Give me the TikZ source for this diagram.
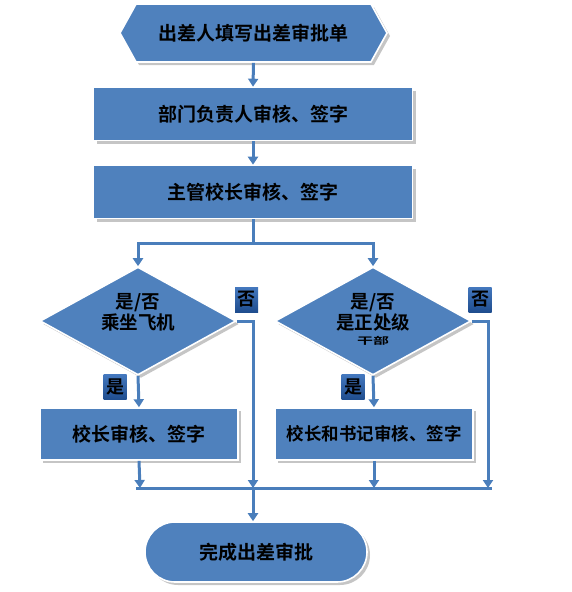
\documentclass[tikz,border=0pt]{standalone}
\usepackage{fontspec}
\setmainfont{Noto Sans CJK SC}[BoldFont={Noto Sans CJK SC Bold}]
\usetikzlibrary{shapes.geometric,shapes.misc,shapes.symbols,arrows.meta,shadows}
\definecolor{boxblue}{HTML}{4F81BD}
\definecolor{lineblue}{HTML}{4A7EBB}
\definecolor{labtop}{HTML}{4478BE}
\definecolor{labbot}{HTML}{1F4D8E}
\tikzset{
  base/.style={fill=boxblue, draw=white, line width=1.6pt, text=black,
    font=\fontsize{19}{22}\selectfont\bfseries, inner sep=0pt,
    drop shadow={shadow xshift=3pt, shadow yshift=-3pt, fill=black!45, opacity=0.5}},
  stepbox/.style={base, rectangle, minimum width=319pt, minimum height=53pt},
  smallbox/.style={base, rectangle, minimum width=198pt, minimum height=52pt},
  hexbox/.style={base, signal, signal to=west and east, signal pointer angle=122,
    minimum width=267pt, minimum height=58pt},
  decbox/.style={base, diamond, minimum width=196pt, minimum height=108pt, aspect=1.81},
  endbox/.style={base, rounded rectangle, minimum width=222pt, minimum height=60pt},
  dectext/.style={font=\fontsize{18.5}{21}\selectfont\bfseries, align=center, inner sep=0pt},
  lab/.style={rectangle, top color=labtop, bottom color=labbot, text=black,
    font=\fontsize{18}{18}\selectfont\bfseries, minimum width=23pt, minimum height=25pt, inner sep=0pt},
  conn/.style={draw=lineblue, line width=3pt},
  arr/.style={conn, -{Triangle[width=10pt,length=8pt]}},
}
\begin{document}
\begin{tikzpicture}[x=1pt,y=-1pt]
\useasboundingbox (0,0) rectangle (572,592);
\node[hexbox] (n0) at (253.5,33) {出差人填写出差审批单};
\node[stepbox] (n1) at (253,114) {部门负责人审核、签字};
\node[stepbox] (n2) at (253,192) {主管校长审核、签字};
\node[decbox] (d1) at (138,321) {};
\node[dectext] (t1) at (138,312) {是/否\\乘坐飞机};
\node[decbox] (d2) at (373,321) {};
\node[dectext] (t2) at (373,312) {是/否\\是正处级};
\node[font=\fontsize{16}{16}\selectfont\bfseries, inner sep=0pt, yscale=0.6] (t3) at (373,341) {干部};
\node[smallbox] (b3) at (139,434) {校长审核、签字};
\node[smallbox, font=\fontsize{17.5}{20}\selectfont\bfseries] (b4) at (374,434) {校长和书记审核、签字};
\node[endbox] (e) at (256,552) {完成出差审批};
\node[lab] (l1) at (246.5,299.5) {否};
\node[lab] (l2) at (480,299.5) {否};
\node[lab] (l3) at (115,387) {是};
\node[lab] (l4) at (353,387) {是};
\coordinate (j1) at (253,243);
\coordinate (m1) at (136,488);
\coordinate (m2) at (253,488);
\coordinate (m3) at (492,488);
\coordinate (r1) at (140,488);
\coordinate (r2) at (374,488);
\coordinate (r3) at (488,488);
\draw[arr] (n0.south) -- (n1.north);
\draw[arr] (n1.south) -- (n2.north);
\draw[conn] (n2.south) -- (j1);
\draw[arr] (j1) -| (d1.north);
\draw[arr] (j1) -| (d2.north);
\draw[arr] (d1.south) -- (b3.north);
\draw[arr] (d2.south) -- (b4.north);
\draw[arr] (d1.east) -| (m2);
\draw[arr] (d2.east) -| (r3);
\draw[conn] (m1) -- (m3);
\draw[arr] (b3.south) -- (r1);
\draw[arr] (b4.south) -- (r2);
\draw[arr] (m2) -- (m2 |- e.north);
\end{tikzpicture}
\end{document}
